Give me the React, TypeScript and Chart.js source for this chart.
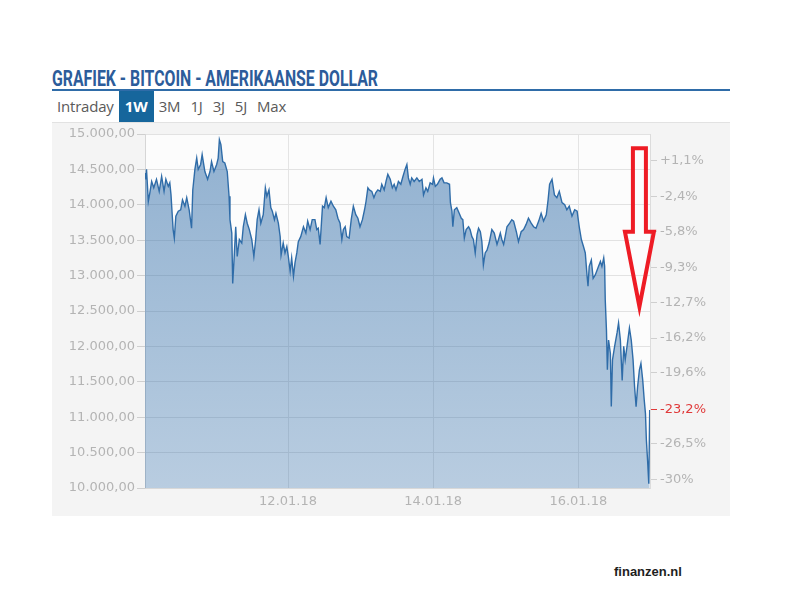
import React, { useEffect, useLayoutEffect, useRef } from "react";
import { Chart, registerables } from "chart.js";

Chart.register(...registerables);

// ---- data ----
// x = hours since 10.01.18 00:00, y = price in USD
const hours: number[] = [
  0.7, 1.0, 1.2, 1.8, 2.3, 2.9, 3.6, 4.5, 5.4, 6.2, 7.0, 7.6, 8.4, 8.9, 9.3, 9.7, 10.0, 10.4, 10.9, 11.7,
  12.5, 13.1, 13.9, 14.5, 15.3, 16.1, 16.5, 17.2, 17.8, 18.3, 19.1, 19.6, 20.5, 21.4, 22.2, 22.7, 23.5, 24.4, 24.9, 25.3,
  25.8, 26.4, 27.1, 27.9, 28.5, 28.8, 29.4, 29.7, 30.2, 30.7, 31.2, 31.9, 32.7, 33.2, 33.9, 34.5, 35.2, 36.0, 36.7, 37.3,
  37.8, 38.4, 39.0, 39.8, 40.5,
  41.0, 41.7, 42.3, 42.8, 43.5, 44.0, 44.8, 45.4, 45.7, 46.4, 47.0, 47.6, 48.1, 48.7, 49.2, 49.8, 50.3, 50.9, 51.4, 52.2,
  53.1, 53.9, 54.5, 55.3, 56.0, 56.9, 57.5, 58.0, 58.6, 59.4, 60.0, 60.6, 61.3, 62.2, 63.0, 63.8, 64.5, 65.2, 65.8, 66.3,
  66.9, 67.4, 68.2, 68.9, 69.6, 70.4, 71.1, 71.8, 72.6, 73.3, 73.8, 74.4, 74.9, 75.7, 76.4, 77.0, 77.7, 78.5, 79.0, 79.8,
  80.4, 81.0, 81.8, 82.5,
  83.1, 83.7, 84.5, 85.3, 86.0, 86.7, 87.3, 87.8, 88.4, 88.9, 89.7, 90.6, 91.4, 92.3, 92.8, 93.6, 94.2, 95.0, 95.8, 96.1,
  96.7, 97.4, 98.3, 98.9, 99.6, 100.5, 101.4, 101.7, 102.2, 102.5, 103.0, 103.8, 104.6, 105.3, 105.8, 106.3, 106.9, 107.7, 108.2, 108.8,
  109.3, 109.9, 110.5, 111.0, 111.6, 112.1, 112.6, 113.2, 113.8, 114.5, 115.4, 116.2, 117.1, 117.6, 118.2, 118.7, 119.3, 119.8, 120.4, 121.3,
  122.0, 122.6, 123.5, 124.2,
  125.1, 125.9, 126.7, 127.5, 128.4, 129.2, 130.0, 130.9, 131.7, 132.5, 133.4, 134.0, 134.5, 135.3, 136.1, 136.9, 137.7, 138.6, 139.5, 140.2,
  141.0, 141.9, 142.8, 143.6, 144.3, 145.0, 145.7, 146.3, 146.9, 147.2, 147.6, 148.3, 148.9, 149.6, 150.5, 151.3, 151.8, 152.4, 152.7, 152.9,
  153.3, 153.6, 154.0, 154.6, 154.9, 155.3, 156.0, 156.8, 157.3, 157.9, 158.5, 159.0, 159.5, 160.1, 160.9, 161.5, 162.1, 162.6, 163.1, 163.6,
  164.2, 164.7, 165.3, 165.8, 166.2, 166.5, 166.9, 167.3, 167.6,
];

const prices: number[] = [
  14450, 14360, 14500, 14050, 14170, 14330, 14240, 14360, 14190, 14400, 14190, 14360, 14260, 14310, 14140, 13860, 13650, 13530, 13840, 13910,
  13930, 14070, 13980, 14100, 13930, 13670, 14210, 14500, 14660, 14500, 14570, 14710, 14470, 14360, 14470, 14610, 14470, 14570, 14660, 14920,
  14850, 14610, 14590, 14470, 14120, 13790, 13600, 12890, 13270, 13690, 13270, 13510, 13460, 13690, 13860, 13740, 13650, 13510, 13270, 13510,
  13790, 13930, 13740, 13860, 14240,
  14120, 14210, 13960, 13910, 13790, 13880, 13740, 13550, 13290, 13460, 13320, 13410, 13270, 13060, 13250, 12990, 13180, 13320, 13480, 13550,
  13690, 13600, 13770, 13650, 13790, 13790, 13650, 13670, 13440, 13980, 13960, 14100, 13960, 14050, 13980, 13930, 13810, 13740, 13510, 13650,
  13690, 13550, 13530, 13790, 13980, 13860, 13810, 13690, 13790, 13930, 14050, 14240, 14210, 14190, 14100, 14170, 14210, 14190, 14290, 14210,
  14330, 14430, 14360, 14240,
  14290, 14210, 14330, 14290, 14400, 14500, 14570, 14380, 14290, 14380, 14330, 14380, 14330, 14360, 14140, 14240, 14190, 14310, 14290, 14380,
  14260, 14290, 14360, 14380, 14310, 14310, 14290, 14030, 13910, 13690, 13930, 13960, 13880, 13810, 13790, 13530, 13650, 13690, 13650, 13550,
  13510, 13320, 13580, 13670, 13620, 13480, 13150, 13320, 13360, 13460, 13650, 13600, 13440, 13510, 13600, 13510, 13440, 13550, 13690, 13740,
  13790, 13770, 13620, 13480,
  13620, 13650, 13720, 13810, 13740, 13690, 13670, 13770, 13880, 13770, 13860, 14070, 14290, 14360, 14140, 14100, 14190, 14030, 14000, 13930,
  13980, 13840, 13930, 13910, 13690, 13510, 13410, 13320, 12990, 12850, 13130, 13220, 12960, 13010, 13110, 13200, 13130, 13250, 13130, 12660,
  12230, 11670, 12090, 11900, 11150, 11810, 12000, 12190, 12330, 12090, 11520, 12000, 11810, 12000, 12260, 12090, 11810, 11430, 11150, 11430,
  11670, 11760, 11520, 11240, 11050, 10680, 10390, 10060, 11100,
];

const hourMin = 0.7;
const hourMax = 167.7;
const dateTickHours: number[] = [48, 96, 144];
const dateTickLabels: string[] = ["12.01.18", "14.01.18", "16.01.18"];

const priceMin = 10000;
const priceMax = 15000;
const priceStep = 500;
const basePrice = 14460; // reference for the percent axis

const pctTicks: number[] = [-30, -26.5, -23.2, -19.6, -16.2, -12.7, -9.3, -5.8, -2.4, 1.1];
const pctLabels: string[] = ["-30%", "-26,5%", "-23,2%", "-19,6%", "-16,2%", "-12,7%", "-9,3%", "-5,8%", "-2,4%", "+1,1%"];
const currentPct = -23.2;

const tabs: string[] = ["Intraday", "1W", "3M", "1J", "3J", "5J", "Max"];
const activeTab = "1W";
const titleText = "GRAFIEK - BITCOIN - AMERIKAANSE DOLLAR";
const footerText = "finanzen.nl";

// red arrow annotation anchored in data units
const arrowHour = 164.2;
const arrowTopPrice = 14800;
const arrowNeckPrice = 13620;
const arrowTipPrice = 12560;

function formatPrice(v: number): string {
  const int = Math.round(v).toString().replace(/\B(?=(\d{3})+(?!\d))/g, ".");
  return int + ",00";
}

const axisFont = { family: "'DejaVu Sans', sans-serif", size: 13 };
const axisColor = "#b4b4b4";

export default function App() {
  const canvasRef = useRef<HTMLCanvasElement | null>(null);
  const titleRef = useRef<HTMLSpanElement | null>(null);

  useLayoutEffect(() => {
    const fit = () => {
      const el = titleRef.current;
      if (!el) return;
      el.style.transform = "none";
      const w = el.getBoundingClientRect().width;
      if (w > 0) el.style.transform = `scaleX(${326 / w})`;
    };
    fit();
    if ((document as any).fonts && (document as any).fonts.ready) {
      (document as any).fonts.ready.then(fit);
    }
  }, []);

  useEffect(() => {
    const canvas = canvasRef.current;
    if (!canvas) return;
    const points = hours.map((h, i) => ({ x: h, y: prices[i] }));

    const bgPlugin = {
      id: "plotBg",
      beforeDraw(chart: any) {
        const { ctx, chartArea } = chart;
        if (!chartArea) return;
        ctx.save();
        ctx.fillStyle = "#fcfcfc";
        ctx.fillRect(chartArea.left, chartArea.top, chartArea.right - chartArea.left, chartArea.bottom - chartArea.top);
        ctx.restore();
      },
    };

    const arrowPlugin = {
      id: "redArrow",
      afterDraw(chart: any) {
        const { ctx } = chart;
        const xs = chart.scales.x;
        const ys = chart.scales.y;
        const x = xs.getPixelForValue(arrowHour);
        const yTop = ys.getPixelForValue(arrowTopPrice);
        const yNeck = ys.getPixelForValue(arrowNeckPrice);
        const yTip = ys.getPixelForValue(arrowTipPrice);
        const sw = 6.5;
        const hw = 14.5;
        ctx.save();
        ctx.strokeStyle = "#ee1c25";
        ctx.lineWidth = 4;
        ctx.lineJoin = "miter";
        ctx.beginPath();
        ctx.moveTo(x - sw, yTop);
        ctx.lineTo(x + sw, yTop);
        ctx.lineTo(x + sw, yNeck);
        ctx.lineTo(x + hw, yNeck);
        ctx.lineTo(x, yTip);
        ctx.lineTo(x - hw, yNeck);
        ctx.lineTo(x - sw, yNeck);
        ctx.closePath();
        ctx.stroke();
        ctx.restore();
      },
    };

    const pctMin = (priceMin / basePrice - 1) * 100;
    const pctMax = (priceMax / basePrice - 1) * 100;

    const chart = new Chart(canvas, {
      type: "line",
      data: {
        datasets: [
          {
            data: points,
            borderColor: "#2f6ca8",
            borderWidth: 1.4,
            pointRadius: 0,
            tension: 0,
            fill: "start",
            yAxisID: "y",
            xAxisID: "x",
            backgroundColor: (context: any) => {
              const { chart: c } = context;
              const area = c.chartArea;
              if (!area) return "rgba(47,108,168,0.4)";
              const g = c.ctx.createLinearGradient(0, area.top, 0, area.bottom);
              g.addColorStop(0, "rgba(47,108,168,0.52)");
              g.addColorStop(1, "rgba(47,108,168,0.33)");
              return g;
            },
          },
        ],
      },
      options: {
        animation: false,
        responsive: false,
        devicePixelRatio: 1,
        layout: { padding: { top: 12, left: 0, right: 0, bottom: 0 } },
        plugins: { legend: { display: false }, tooltip: { enabled: false } },
        scales: {
          x: {
            type: "linear",
            min: hourMin,
            max: hourMax,
            afterBuildTicks: (s: any) => {
              s.ticks = dateTickHours.map((v) => ({ value: v }));
            },
            afterFit: (s: any) => {
              s.height = 28;
            },
            grid: { color: "#e4e4e4", drawTicks: false },
            border: { color: "#d8d8d8" },
            ticks: {
              autoSkip: false,
              maxRotation: 0,
              padding: 6,
              color: axisColor,
              font: axisFont,
              callback: (_v: any, i: number) => dateTickLabels[i],
            },
          },
          y: {
            position: "left",
            min: priceMin,
            max: priceMax,
            afterFit: (s: any) => {
              s.width = 93;
            },
            grid: { color: "#e2e2e2", tickLength: 8, tickColor: "#cfcfcf" },
            border: { color: "#d6d6d6" },
            ticks: {
              stepSize: priceStep,
              autoSkip: false,
              padding: 2,
              color: axisColor,
              font: axisFont,
              callback: (v: any) => formatPrice(Number(v)),
            },
          },
          y1: {
            position: "right",
            min: pctMin,
            max: pctMax,
            afterBuildTicks: (s: any) => {
              s.ticks = pctTicks.map((v) => ({ value: v }));
            },
            afterFit: (s: any) => {
              s.width = 80;
            },
            grid: {
              drawOnChartArea: false,
              tickLength: 7,
              tickColor: (ctx: any) => (ctx.tick && ctx.tick.value === currentPct ? "#e03a3a" : "#cfcfcf"),
            },
            border: { color: "#dcdcdc" },
            ticks: {
              autoSkip: false,
              padding: 3,
              font: axisFont,
              color: (ctx: any) => (ctx.tick && ctx.tick.value === currentPct ? "#e03a3a" : axisColor),
              callback: (_v: any, i: number) => pctLabels[i],
            },
          },
        },
      },
      plugins: [bgPlugin, arrowPlugin],
    } as any);

    return () => {
      chart.destroy();
    };
  }, []);

  return (
    <div style={{ position: "absolute", left: 0, top: 0, width: 800, height: 606, background: "#ffffff", overflow: "hidden" }}>
      {/* title */}
      <div style={{ position: "absolute", left: 52, top: 68, height: 22, whiteSpace: "nowrap" }}>
        <span
          ref={titleRef}
          style={{
            display: "inline-block",
            fontFamily: "Roboto, 'DejaVu Sans', sans-serif",
            fontWeight: 700,
            fontSize: 22,
            lineHeight: "22px",
            color: "#2c5c9a",
            transformOrigin: "left top",
          }}
        >
          {titleText}
        </span>
      </div>
      <div style={{ position: "absolute", left: 52, top: 89, width: 678, height: 2, background: "#2f6ca8" }} />
      {/* tabs */}
      <div style={{ position: "absolute", left: 52, top: 91, height: 31, display: "flex" }}>
        {tabs.map((t) => (
          <div
            key={t}
            style={{
              padding: t === activeTab ? "0 6px" : "0 5px",
              height: 31,
              lineHeight: "31px",
              fontFamily: "'Open Sans', sans-serif",
              fontSize: 15,
              letterSpacing: t === activeTab ? 0 : -0.2,
              fontWeight: t === activeTab ? 700 : 400,
              color: t === activeTab ? "#ffffff" : "#5a5a5a",
              background: t === activeTab ? "#16669c" : "transparent",
            }}
          >
            {t}
          </div>
        ))}
      </div>
      {/* chart panel */}
      <div
        style={{
          position: "absolute",
          left: 52,
          top: 122,
          width: 678,
          height: 394,
          background: "#f4f4f4",
          borderTop: "1px solid #e2e2e2",
          boxSizing: "border-box",
        }}
      />
      <canvas
        ref={canvasRef}
        width={678}
        height={394}
        style={{ position: "absolute", left: 52, top: 122, width: 678, height: 394 }}
      />
      <div
        style={{
          position: "absolute",
          left: 614,
          top: 564,
          fontFamily: "'Liberation Sans', Arial, sans-serif",
          fontWeight: 700,
          fontSize: 13,
          color: "#1e1e1e",
          whiteSpace: "nowrap",
        }}
      >
        {footerText}
      </div>
    </div>
  );
}
